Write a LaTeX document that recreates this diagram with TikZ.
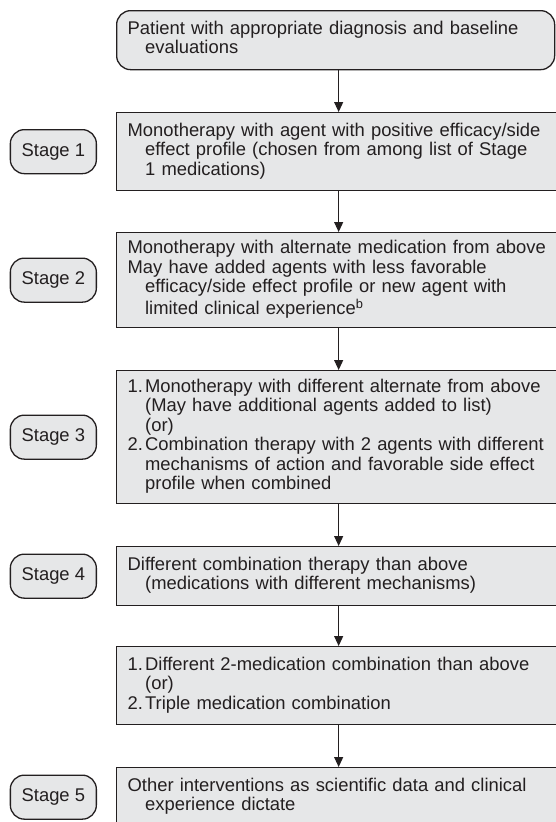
\documentclass[tikz,border=0pt]{standalone}
\usepackage{fontspec}
\setmainfont{Liberation Sans}
\usetikzlibrary{positioning,arrows.meta}
\definecolor{boxgray}{HTML}{E6E7E8}
\definecolor{ink}{HTML}{231F20}
\newcommand{\cont}{\hspace*{17.5pt}}
\newcommand{\itemno}[1]{\makebox[17.5pt][l]{#1}}
\newenvironment{lines}{\begin{tabular}{@{}l@{}}}{\end{tabular}}
\begin{document}
\begin{tikzpicture}[x=1pt,y=-1pt,
		stepnode/.style={draw=ink,line width=1.3pt,fill=boxgray,text=ink,anchor=north west,text width=422pt,inner xsep=11pt,inner ysep=0pt,align=left,font=\fontsize{18.4}{19.5}\selectfont},
		startnode/.style={stepnode,rounded corners=14pt,text width=416pt},
		stagenode/.style={draw=ink,line width=1.3pt,fill=boxgray,text=ink,rounded corners=14pt,minimum width=86pt,minimum height=44pt,inner sep=0pt,font=\fontsize{18.4}{19.5}\selectfont},
		flow/.style={draw=ink,line width=1.1pt,-{Triangle[length=10pt,width=9pt]}}]
		\useasboundingbox (0,0) rectangle (555,822);
		\node[startnode,minimum height=59pt] (start) at (116,10) {\begin{lines}
				Patient with appropriate diagnosis and baseline\\
				\cont evaluations
			\end{lines}};
		\node[stepnode,minimum height=78pt] (s1) at (116,112) {\begin{lines}
				Monotherapy with agent with positive efficacy/side\\
				\cont effect profile (chosen from among list of Stage\\
				\cont 1 medications)
			\end{lines}};
		\node[stepnode,minimum height=95pt] (s2) at (116,232) {\begin{lines}
				Monotherapy with alternate medication from above\\
				May have added agents with less favorable\\
				\cont efficacy/side effect profile or new agent with\\
				\cont limited clinical experience\textsuperscript{b}
			\end{lines}};
		\node[stepnode,minimum height=133pt] (s3) at (116,370) {\begin{lines}
				\itemno{1.}Monotherapy with different alternate from above\\
				\cont (May have additional agents added to list)\\
				\cont (or)\\
				\itemno{2.}Combination therapy with 2 agents with different\\
				\cont mechanisms of action and favorable side effect\\
				\cont profile when combined
			\end{lines}};
		\node[stepnode,minimum height=59pt] (s4) at (116,546) {\begin{lines}
				Different combination therapy than above\\
				\cont (medications with different mechanisms)
			\end{lines}};
		\node[stepnode,minimum height=78pt] (s4b) at (116,646) {\begin{lines}
				\itemno{1.}Different 2-medication combination than above\\
				\cont (or)\\
				\itemno{2.}Triple medication combination
			\end{lines}};
		\node[stepnode,minimum height=59pt] (s5) at (116,767) {\begin{lines}
				Other interventions as scientific data and clinical\\
				\cont experience dictate
			\end{lines}};
		\node[stagenode,left=19pt of s1] (p1) {Stage 1};
		\node[stagenode,left=19pt of s2] (p2) {Stage 2};
		\node[stagenode,left=19pt of s3] (p3) {Stage 3};
		\node[stagenode,left=19pt of s4] (p4) {Stage 4};
		\node[stagenode,left=19pt of s5] (p5) {Stage 5};
		\draw[flow] (start.south -| s1.north) -- (s1.north);
		\draw[flow] (s1.south) -- (s2.north);
		\draw[flow] (s2.south) -- (s3.north);
		\draw[flow] (s3.south) -- (s4.north);
		\draw[flow] (s4.south) -- (s4b.north);
		\draw[flow] (s4b.south) -- (s5.north);
\end{tikzpicture}
\end{document}
